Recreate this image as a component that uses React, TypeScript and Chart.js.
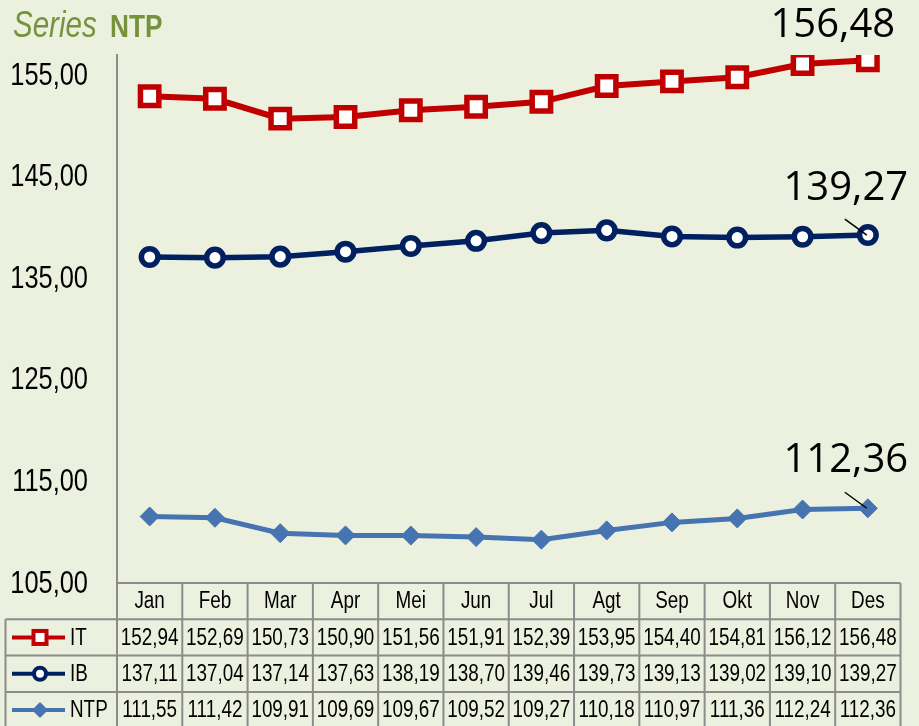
import React, { useEffect, useRef } from 'react';
import { Chart, registerables } from 'chart.js';
Chart.register(...registerables);

const months = ['Jan', 'Feb', 'Mar', 'Apr', 'Mei', 'Jun', 'Jul', 'Agt', 'Sep', 'Okt', 'Nov', 'Des'];
const itValues = [152.94, 152.69, 150.73, 150.9, 151.56, 151.91, 152.39, 153.95, 154.4, 154.81, 156.12, 156.48];
const ibValues = [137.11, 137.04, 137.14, 137.63, 138.19, 138.7, 139.46, 139.73, 139.13, 139.02, 139.1, 139.27];
const ntpValues = [111.55, 111.42, 109.91, 109.69, 109.67, 109.52, 109.27, 110.18, 110.97, 111.36, 112.24, 112.36];
const yTicks = [105, 115, 125, 135, 145, 155];
const seriesNames = ['IT', 'IB', 'NTP'];

const BG = '#EBF1DE';
const RED = '#C00000';
const NAVY = '#002060';
const BLUE = '#4674B0';
const GRID = '#8C8C8C';
const SANS = '"Liberation Sans", Arial, sans-serif';
const SQ = 0.82;

const fmt = (v: number) => v.toFixed(2).replace('.', ',');

// draw text emulating Arial Narrow by horizontally condensing Liberation Sans
function narrowText(
  ctx: CanvasRenderingContext2D,
  text: string,
  x: number,
  y: number,
  size: number,
  align: 'left' | 'center' | 'right',
  style = ''
) {
  ctx.save();
  ctx.font = (style ? style + ' ' : '') + size + 'px ' + SANS;
  ctx.textAlign = align;
  ctx.translate(x, y);
  ctx.scale(SQ, 1);
  ctx.fillText(text, 0, 0);
  const w = ctx.measureText(text).width * SQ;
  ctx.restore();
  return w;
}

function drawMarker(ctx: CanvasRenderingContext2D, kind: number, x: number, y: number) {
  ctx.save();
  if (kind === 0) {
    ctx.fillStyle = '#fff';
    ctx.strokeStyle = RED;
    ctx.lineWidth = 4;
    ctx.fillRect(x - 6.5, y - 6.5, 13, 13);
    ctx.strokeRect(x - 6.5, y - 6.5, 13, 13);
  } else if (kind === 1) {
    ctx.fillStyle = '#fff';
    ctx.strokeStyle = NAVY;
    ctx.lineWidth = 4;
    ctx.beginPath();
    ctx.arc(x, y, 6, 0, Math.PI * 2);
    ctx.fill();
    ctx.stroke();
  } else {
    ctx.fillStyle = BLUE;
    ctx.beginPath();
    ctx.moveTo(x, y - 8);
    ctx.lineTo(x + 8, y);
    ctx.lineTo(x, y + 8);
    ctx.lineTo(x - 8, y);
    ctx.closePath();
    ctx.fill();
  }
  ctx.restore();
}

const bgPlugin = {
  id: 'bgPlugin',
  beforeDraw(chart: any) {
    const ctx = chart.ctx;
    ctx.save();
    ctx.fillStyle = BG;
    ctx.fillRect(0, 0, chart.width, chart.height);
    ctx.restore();
  },
};

const tablePlugin = {
  id: 'tablePlugin',
  afterDraw(chart: any) {
    const ctx: CanvasRenderingContext2D = chart.ctx;
    const xs = chart.scales.x;
    const ys = chart.scales.y;
    const area = chart.chartArea;
    const step = xs.getPixelForValue(1) - xs.getPixelForValue(0);
    const top = area.bottom;
    const rowH = 36.3;
    const legendLeft = 5.5;
    const right = xs.getPixelForValue(months.length - 1) + step / 2;
    ctx.save();
    ctx.textBaseline = 'middle';
    // y tick labels
    ctx.fillStyle = '#000';
    yTicks.forEach((v) => {
      narrowText(ctx, fmt(v), 88, ys.getPixelForValue(v) + 1, 31, 'right');
    });
    // title
    ctx.textBaseline = 'alphabetic';
    ctx.fillStyle = '#76923C';
    narrowText(ctx, 'Series', 13, 37, 36, 'left', 'italic');
    narrowText(ctx, 'NTP', 110, 37, 32, 'left', 'bold');

    ctx.strokeStyle = GRID;
    ctx.lineWidth = 2;
    ctx.beginPath();
    ctx.moveTo(area.left, top);
    ctx.lineTo(right, top);
    for (let r = 1; r <= 4; r++) {
      const y = top + r * rowH;
      ctx.moveTo(legendLeft, y);
      ctx.lineTo(right, y);
    }
    for (let i = 0; i <= months.length; i++) {
      const x = xs.getPixelForValue(0) - step / 2 + i * step;
      ctx.moveTo(x, top);
      ctx.lineTo(x, top + 4 * rowH);
    }
    ctx.moveTo(legendLeft, top + rowH);
    ctx.lineTo(legendLeft, top + 4 * rowH);
    ctx.stroke();

    ctx.fillStyle = '#000';
    ctx.textBaseline = 'middle';
    months.forEach((m, i) => {
      narrowText(ctx, m, xs.getPixelForValue(i), top + rowH / 2 + 1, 23, 'center');
    });
    chart.data.datasets.forEach((ds: any, r: number) => {
      const yc = top + (r + 1) * rowH + rowH / 2 + 1;
      ds.data.forEach((v: number, i: number) => {
        narrowText(ctx, fmt(v), xs.getPixelForValue(i), yc, 23, 'center');
      });
    });
    // legend keys
    const colors = [RED, NAVY, BLUE];
    seriesNames.forEach((name, r) => {
      const yc = top + (r + 1) * rowH + rowH / 2;
      ctx.strokeStyle = colors[r];
      ctx.lineWidth = 4;
      ctx.beginPath();
      ctx.moveTo(12, yc);
      ctx.lineTo(65, yc);
      ctx.stroke();
      drawMarker(ctx, r, 40, yc);
      ctx.fillStyle = '#000';
      narrowText(ctx, name, 70, yc + 1, 23, 'left');
    });
    ctx.restore();
  },
};

const labelPlugin = {
  id: 'labelPlugin',
  afterDatasetsDraw(chart: any) {
    const ctx: CanvasRenderingContext2D = chart.ctx;
    ctx.save();
    ctx.font = '40px "Open Sans", sans-serif';
    ctx.fillStyle = '#000';
    ctx.textAlign = 'center';
    ctx.textBaseline = 'middle';
    const offs = [
      { dx: -35, dy: -35, leader: false },
      { dx: -22, dy: -46, leader: true },
      { dx: -22, dy: -48, leader: true },
    ];
    chart.data.datasets.forEach((ds: any, d: number) => {
      const meta = chart.getDatasetMeta(d);
      const last = ds.data.length - 1;
      const pt = meta.data[last];
      const o = offs[d];
      ctx.fillText(fmt(ds.data[last]), pt.x + o.dx, pt.y + o.dy);
      if (o.leader) {
        ctx.strokeStyle = '#000';
        ctx.lineWidth = 1.5;
        ctx.beginPath();
        ctx.moveTo(pt.x - 23, pt.y - 16);
        ctx.lineTo(pt.x - 1, pt.y);
        ctx.stroke();
      }
    });
    ctx.restore();
  },
};

export default function App() {
  const ref = useRef<HTMLCanvasElement>(null);
  useEffect(() => {
    if (!ref.current) return;
    const chart = new Chart(ref.current, {
      type: 'line',
      data: {
        labels: months,
        datasets: [
          {
            label: seriesNames[0],
            data: itValues,
            borderColor: RED,
            backgroundColor: RED,
            borderWidth: 6,
            pointStyle: 'rect',
            pointRadius: 13,
            pointBorderWidth: 5.5,
            pointBackgroundColor: '#fff',
            pointBorderColor: RED,
          },
          {
            label: seriesNames[1],
            data: ibValues,
            borderColor: NAVY,
            backgroundColor: NAVY,
            borderWidth: 5.5,
            pointStyle: 'circle',
            pointRadius: 8.3,
            pointBorderWidth: 5.5,
            pointBackgroundColor: '#fff',
            pointBorderColor: NAVY,
          },
          {
            label: seriesNames[2],
            data: ntpValues,
            borderColor: BLUE,
            backgroundColor: BLUE,
            borderWidth: 5,
            pointStyle: 'rectRot',
            pointRadius: 9.5,
            pointBorderWidth: 1,
            pointBackgroundColor: BLUE,
            pointBorderColor: BLUE,
          },
        ],
      },
      options: {
        animation: false,
        responsive: false,
        devicePixelRatio: 1,
        layout: { padding: { left: 0, top: 55, right: 16, bottom: 143 } },
        plugins: { legend: { display: false }, tooltip: { enabled: false } },
        scales: {
          x: { type: 'category', offset: true, display: false },
          y: {
            min: 105,
            max: 157,
            afterBuildTicks: (s: any) => {
              s.ticks = yTicks.map((v) => ({ value: v }));
            },
            afterFit: (s: any) => {
              s.width = 117;
            },
            grid: { display: false, drawTicks: false },
            border: { display: true, color: GRID, width: 2 },
            ticks: { display: false },
          },
        },
      },
      plugins: [bgPlugin, tablePlugin, labelPlugin],
    });
    return () => chart.destroy();
  }, []);
  return (
    <div style={{ position: 'absolute', left: 0, top: 0, width: 919, height: 726, background: BG }}>
      <canvas ref={ref} width={919} height={726} style={{ width: 919, height: 726, display: 'block' }} />
    </div>
  );
}
